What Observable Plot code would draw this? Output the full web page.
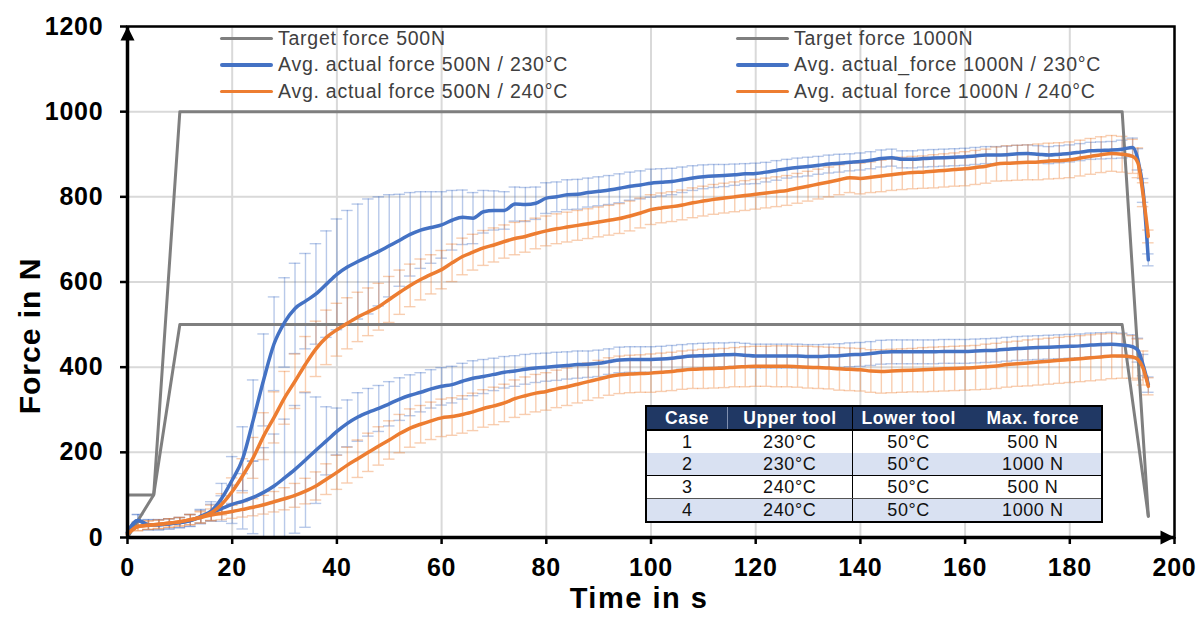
<!DOCTYPE html>
<html>
<head>
<meta charset="utf-8">
<script src="https://cdn.jsdelivr.net/npm/d3@7"></script>
<script src="https://cdn.jsdelivr.net/npm/@observablehq/plot@0.6"></script>
<style>
  body { margin: 0; background: #fff; }
  #wrap { position: relative; width: 1204px; height: 617px; overflow: hidden; font-family: "Liberation Sans", Arial, sans-serif; background: #fff; }
  #wrap svg { position: absolute; left: 0; top: 0; }
  #wrap svg [aria-label$="tick label"] text { letter-spacing: 0.8px; }
  #wrap svg .ylab { letter-spacing: 1px; }
  #wrap svg .xlab { letter-spacing: 1.5px; }
  .leg { position: absolute; top: 25px; font-size: 19.5px; letter-spacing: 0.75px; color: #404040; white-space: nowrap; }
  .leg .row { display: flex; align-items: center; height: 26.5px; }
  .leg .sw { width: 53px; height: 3.5px; margin-right: 5px; border-radius: 2px; }
  #tbl { position: absolute; left: 645px; top: 405px; width: 458px; border-collapse: collapse; border: 2.5px solid #000; background: #fff; letter-spacing: 0.6px; }
  #tbl th { background: #203864; color: #fff; font-weight: bold; font-size: 17.5px; height: 22px; padding: 0; text-align: center; border-bottom: 2px solid #000; }
  #tbl td { font-size: 18px; height: 22px; padding: 0; text-align: center; color: #111; }
  #tbl th.c1 { border-right: 1px solid #8090b0; }
  #tbl .c2 { border-right: 1.5px solid #000; }
  #tbl tr.alt td { background: #d9e1f2; }
  #tbl tr.sep td { border-bottom: 1.5px solid #000; }
  #tbl tr.sep2 td { border-bottom: 1px solid #555; }
</style>
</head>
<body>
<div id="wrap"></div>
<script>
// ---------- data ----------
const times = [0,2,4,6,8,10,12,14,16,18,20,22,24,26,28,30,32,34,36,38,40,42,44,46,48,50,52,54,56,58,60,62,64,66,68,70,72,74,76,78,80,82,84,86,88,90,92,94,96,98,100,102,104,106,108,110,112,114,116,118,120,122,124,126,128,130,132,134,136,138,140,142,144,146,148,150,152,154,156,158,160,162,164,166,168,170,172,174,176,178,180,182,184,186,188,190,192,193,194,195];

// Avg. actual force 1000N / 230°C
const force1000_230 = [12,40,30,30,32,35,40,50,62,92,135,185,275,370,455,505,538,555,572,595,618,635,648,660,672,685,698,712,722,728,734,745,752,750,765,768,768,783,782,785,797,800,805,806,810,813,816,820,825,828,832,834,836,840,844,847,849,850,852,854,855,858,862,866,869,871,874,877,879,881,883,886,890,892,888,888,890,891,892,893,894,896,898,898,899,901,902,900,898,900,902,905,908,909,910,912,916,888,815,652];
const err1000_230 = [10,14,12,12,12,12,14,16,22,35,55,75,95,108,110,105,106,112,118,125,130,133,135,135,128,120,108,98,90,84,78,70,64,60,50,46,44,40,40,38,36,35,35,35,34,34,34,34,33,33,33,32,31,30,29,28,27,26,25,24,24,23,23,22,22,22,21,21,21,20,20,20,20,20,20,20,20,20,20,20,20,20,20,20,20,20,20,20,20,20,20,20,20,20,20,21,22,25,28,14];

// Avg. actual force 1000N / 240°C
const force1000_240 = [8,26,29,31,34,37,42,48,58,78,108,145,187,238,282,328,367,407,443,470,488,503,518,530,542,559,576,592,606,618,629,645,660,670,680,687,695,702,707,714,720,725,729,733,737,741,745,749,755,762,770,774,777,781,786,790,794,797,800,803,806,809,812,815,820,825,830,835,840,845,843,846,849,852,855,857,858,860,862,864,866,869,872,877,879,880,881,882,884,885,887,891,895,899,902,900,895,880,805,707];
const err1000_240 = [8,10,10,10,10,10,12,14,18,25,32,40,48,55,60,62,64,65,65,64,62,60,58,56,55,54,52,50,48,46,45,44,43,42,41,40,39,38,37,36,35,35,35,35,35,35,35,35,35,35,35,35,35,35,35,35,35,35,35,35,35,35,35,35,35,35,35,35,35,35,36,36,37,37,38,38,38,39,39,39,40,40,40,40,41,41,41,42,42,42,42,42,42,42,42,42,40,35,28,15];

// Avg. actual force 500N / 230°C
const force500_230 = [12,40,30,30,32,35,40,48,58,68,78,85,94,106,121,140,160,182,205,227,249,268,283,294,303,314,325,334,341,349,355,359,367,374,378,383,388,391,395,398,400,402,404,406,407,409,413,417,418,418,418,419,421,424,426,427,428,429,430,428,426,426,426,426,426,425,425,426,427,429,430,432,435,436,436,436,436,436,437,437,437,438,439,440,442,444,445,446,447,448,449,450,452,453,454,452,448,440,405,359];
const err500_230 = [10,14,12,12,12,12,14,16,20,30,45,65,85,105,122,138,150,158,125,80,55,55,57,56,54,52,50,48,46,45,44,43,42,41,40,38,37,36,35,34,33,33,32,32,31,31,30,30,30,30,30,30,30,29,29,29,29,28,28,28,28,28,28,28,28,28,28,28,28,28,28,28,28,28,28,28,28,28,28,28,28,28,28,28,28,28,28,28,28,28,28,28,28,28,28,28,28,28,25,18];

// Avg. actual force 500N / 240°C
const force500_240 = [8,26,29,31,34,37,42,47,53,57,61,66,71,77,84,91,99,109,121,137,153,170,185,200,215,229,244,257,266,274,281,284,289,295,303,309,316,326,333,339,343,349,354,360,366,372,378,382,384,385,386,388,390,393,395,396,397,398,400,401,402,402,402,402,401,400,399,398,396,395,394,391,390,391,392,393,394,395,396,397,398,399,401,403,406,408,410,412,414,416,418,420,422,424,426,426,424,418,398,355];
const err500_240 = [8,10,10,10,10,10,12,13,14,15,16,18,20,22,24,26,28,30,33,36,40,42,44,45,45,45,45,45,44,44,44,44,44,44,44,44,44,44,44,44,44,44,44,44,44,44,44,44,44,44,45,45,45,45,45,46,46,46,46,47,47,47,48,48,48,49,49,49,50,50,50,50,51,51,51,51,52,52,52,52,52,52,53,53,53,53,54,54,54,54,54,54,54,54,53,52,50,48,40,20];

// Target forces
const target500T = [0, 5, 10, 190, 195];
const target500F = [0, 100, 500, 500, 50];
const target1000T = [0, 5, 10, 190, 195];
const target1000F = [100, 100, 1000, 1000, 50];

const xTicks = [0, 20, 40, 60, 80, 100, 120, 140, 160, 180, 200];
const yTicks = [0, 200, 400, 600, 800, 1000, 1200];

const legendLeft = ["Target force 500N", "Avg. actual force 500N / 230°C", "Avg. actual force 500N / 240°C"];
const legendRight = ["Target force 1000N", "Avg. actual_force 1000N / 230°C", "Avg. actual force 1000N / 240°C"];
const legendColors = ["#7f7f7f", "#4472c4", "#ed7d31"];

const tableHeader = ["Case", "Upper tool", "Lower tool", "Max. force"];
const tableCase = ["1", "2", "3", "4"];
const tableUpper = ["230°C", "230°C", "240°C", "240°C"];
const tableLower = ["50°C", "50°C", "50°C", "50°C"];
const tableForce = ["500 N", "1000 N", "500 N", "1000 N"];

// ---------- build ----------
const BLUE = "#4472c4", ORANGE = "#ed7d31", GRAY = "#7f7f7f";
const rows = (vals, errs) => times.map((t, i) => ({t, v: vals[i], e: errs[i]}));
const pts = (T, F) => T.map((t, i) => ({t, f: F[i]}));

const sB1000 = rows(force1000_230, err1000_230);
const sO1000 = rows(force1000_240, err1000_240);
const sB500 = rows(force500_230, err500_230);
const sO500 = rows(force500_240, err500_240);

const capW = 1.1;
function errMarks(data, color) {
  const o = {stroke: color, strokeOpacity: 0.38, strokeWidth: 1.4, clip: true};
  return [
    Plot.ruleX(data, {x: "t", y1: d => d.v - d.e, y2: d => d.v + d.e, ...o}),
    Plot.ruleY(data, {y: d => d.v + d.e, x1: d => d.t - capW, x2: d => d.t + capW, ...o}),
    Plot.ruleY(data, {y: d => d.v - d.e, x1: d => d.t - capW, x2: d => d.t + capW, ...o})
  ];
}

const triUp = {draw(ctx, size) { const r = Math.sqrt(size / Math.PI); ctx.moveTo(0, 0); ctx.lineTo(r, 2 * r); ctx.lineTo(-r, 2 * r); ctx.closePath(); }};
const triRight = {draw(ctx, size) { const r = Math.sqrt(size / Math.PI); ctx.moveTo(0, 0); ctx.lineTo(-2 * r, r); ctx.lineTo(-2 * r, -r); ctx.closePath(); }};

const chart = Plot.plot({
  width: 1204,
  height: 617,
  marginLeft: 127,
  marginRight: 30,
  marginTop: 26,
  marginBottom: 80,
  x: {domain: [0, 200]},
  y: {domain: [0, 1200]},
  style: {fontFamily: "'Liberation Sans', Arial, sans-serif", background: "transparent", color: "black", overflow: "visible"},
  marks: [
    Plot.gridX(xTicks, {stroke: "#d9d9d9", strokeOpacity: 1, strokeWidth: 2}),
    Plot.gridY(yTicks, {stroke: "#d9d9d9", strokeOpacity: 1, strokeWidth: 2}),
    ...errMarks(sB1000, BLUE),
    ...errMarks(sB500, BLUE),
    ...errMarks(sO1000, ORANGE),
    ...errMarks(sO500, ORANGE),
    Plot.line(pts(target500T, target500F), {x: "t", y: "f", stroke: GRAY, strokeWidth: 3}),
    Plot.line(pts(target1000T, target1000F), {x: "t", y: "f", stroke: GRAY, strokeWidth: 3}),
    Plot.line(sB1000, {x: "t", y: "v", stroke: BLUE, strokeWidth: 3.5, curve: "monotone-x"}),
    Plot.line(sB500, {x: "t", y: "v", stroke: BLUE, strokeWidth: 3.5, curve: "monotone-x"}),
    Plot.line(sO1000, {x: "t", y: "v", stroke: ORANGE, strokeWidth: 3.5, curve: "monotone-x"}),
    Plot.line(sO500, {x: "t", y: "v", stroke: ORANGE, strokeWidth: 3.5, curve: "monotone-x"}),
    Plot.frame({stroke: "black", strokeWidth: 2.5}),
    Plot.ruleX([0], {stroke: "black", strokeWidth: 3.5}),
    Plot.ruleY([0], {stroke: "black", strokeWidth: 3.5}),
    Plot.dot([{x: 0, y: 1200}], {x: "x", y: "y", symbol: triUp, r: 7, fill: "black", stroke: null}),
    Plot.dot([{x: 200, y: 0}], {x: "x", y: "y", symbol: triRight, r: 7, fill: "black", stroke: null}),
    Plot.axisX(xTicks, {tickSize: 7, tickPadding: 14, fontSize: 25, fontWeight: "bold", strokeWidth: 2.5, label: null, tickFormat: d => String(d)}),
    Plot.axisY(yTicks, {tickSize: 7, tickPadding: 17, fontSize: 25, fontWeight: "bold", strokeWidth: 2.5, label: null, tickFormat: d => String(d)}),
    Plot.text(["Force in N"], {text: d => d, frameAnchor: "left", textAnchor: "middle", lineAnchor: "middle", dx: -97, dy: 54, rotate: -90, fontSize: 30, fontWeight: "bold", className: "ylab"}),
    Plot.text(["Time in s"], {text: d => d, frameAnchor: "bottom", textAnchor: "middle", lineAnchor: "middle", dx: -12, dy: 61, fontSize: 29, fontWeight: "bold", className: "xlab"})
  ]
});

const wrap = document.getElementById("wrap");
wrap.appendChild(chart);

// legend
function legendCol(labels, left) {
  const div = document.createElement("div");
  div.className = "leg";
  div.style.left = left + "px";
  labels.forEach((lab, i) => {
    const r = document.createElement("div");
    r.className = "row";
    const sw = document.createElement("div");
    sw.className = "sw";
    sw.style.background = legendColors[i];
    r.appendChild(sw);
    const s = document.createElement("span");
    s.textContent = lab;
    r.appendChild(s);
    div.appendChild(r);
  });
  wrap.appendChild(div);
}
legendCol(legendLeft, 220);
legendCol(legendRight, 736);

// table
const tbl = document.createElement("table");
tbl.id = "tbl";
const colW = [82, 125, 113, 138];
const cg = document.createElement("colgroup");
colW.forEach(w => { const c = document.createElement("col"); c.style.width = w + "px"; cg.appendChild(c); });
tbl.appendChild(cg);
const hr = document.createElement("tr");
tableHeader.forEach((h, i) => {
  const th = document.createElement("th");
  th.textContent = h;
  if (i === 0) th.className = "c1";
  if (i === 1) th.className = "c2";
  hr.appendChild(th);
});
tbl.appendChild(hr);
tableCase.forEach((c, i) => {
  const tr = document.createElement("tr");
  if (i % 2 === 1) tr.classList.add("alt");
  if (i === 1) tr.classList.add("sep");
  if (i === 2) tr.classList.add("sep2");
  [c, tableUpper[i], tableLower[i], tableForce[i]].forEach((v, j) => {
    const td = document.createElement("td");
    td.textContent = v;
    if (j === 1) td.className = "c2";
    tr.appendChild(td);
  });
  tbl.appendChild(tr);
});
wrap.appendChild(tbl);
</script>
</body>
</html>
